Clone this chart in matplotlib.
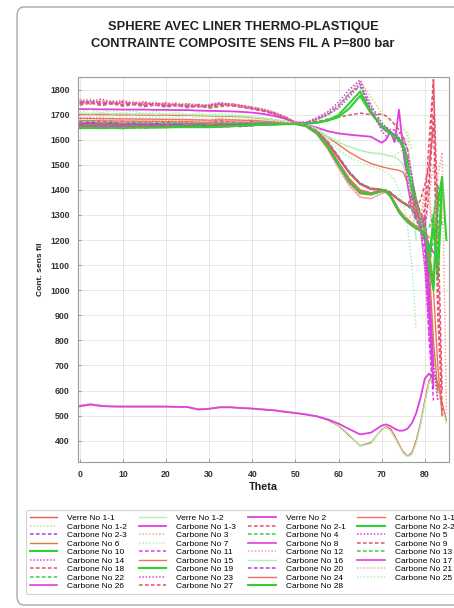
import numpy as np
import matplotlib.pyplot as plt
from matplotlib.patches import FancyBboxPatch

plt.rcParams.update({
    'font.family': 'sans-serif',
    'font.sans-serif': ['Liberation Sans', 'DejaVu Sans'],
})

NA = np.nan

# angle grid (0..67.5 every 2.5, then every degree up to 85)
THETA = [0, 2.5, 5, 7.5, 10, 12.5, 15, 17.5, 20, 22.5, 25, 27.5, 30, 32.5, 35, 37.5, 40, 42.5, 45, 47.5, 50,
         52.5, 55, 57.5, 60, 62.5, 65, 67.5,
         70, 71, 72, 73, 74, 75, 76, 77, 78, 79, 80, 81, 82, 83, 84, 85]

# --- verre ---
verre_1_1 = [540, 546, 540, 537, 536, 536, 536, 536, 536, 535, 534, 526, 528, 534, 533, 530, 528, 525, 522, 516, 511,
             505, 497, 482, 460, 420, 380, 392,
             445, 455, 448, 420, 385, 355, 338, 352, 400, 470, 560, 640, 665, 630, 550, 480]
verre_1_2 = [539, 545, 539, 537, 536, 536, 536, 536, 536, 535, 534, 525, 528, 534, 533, 530, 528, 525, 522, 516, 511,
             505, 498, 484, 462, 424, 378, 388,
             448, 452, 440, 412, 380, 350, 336, 345, 390, 460, 550, 630, 660, 610, 530, 470]
verre_2 = [537, 544, 538, 536, 536, 536, 536, 536, 536, 535, 534, 524, 527, 533, 533, 530, 528, 524, 521, 515, 510,
           504, 497, 485, 468, 446, 425, 432,
           460, 465, 458, 448, 440, 440, 448, 470, 510, 570, 648, 668, 645, NA, NA, NA]

# --- carbone ---
carb_1_1 = [1700, 1700, 1700, 1699, 1699, 1699, 1698, 1698, 1698, 1697, 1697, 1696, 1695, 1694, 1693, 1691, 1688, 1684, 1679, 1672, 1665,
            1655, 1638, 1610, 1580, 1550, 1525, 1505,
            1492, 1488, 1484, 1481, 1478, 1470, 1430, 1370, 1300, NA, NA, NA, NA, NA, NA, NA]
carb_1_2 = [1756, 1762, 1750, 1758, 1746, 1754, 1744, 1750, 1740, 1748, 1736, 1744, 1732, 1740, 1744, 1738, 1732, 1724, 1712, 1694, 1670,
            1668, 1678, 1698, 1728, 1785, 1835, 1770,
            1705, 1690, 1675, 1665, 1655, 1645, 1620, 1560, NA, NA, NA, NA, NA, NA, NA, NA]
carb_1_3 = [1722, 1722, 1721, 1721, 1720, 1720, 1720, 1719, 1719, 1718, 1718, 1716, 1715, 1714, 1713, 1711, 1708, 1703, 1695, 1684, 1668,
            1660, 1648, 1634, 1625, 1620, 1616, 1612,
            1588, 1600, 1632, 1590, 1720, 1560, 1420, 1330, 1290, NA, NA, NA, NA, NA, NA, NA]
carb_2_1 = [1738, 1746, 1736, 1744, 1734, 1740, 1732, 1738, 1730, 1736, 1728, 1734, 1726, 1732, 1736, 1730, 1722, 1714, 1702, 1688, 1668,
            1667, 1672, 1682, 1690, 1698, 1706, 1700,
            1702, 1695, 1680, 1660, 1640, 1610, 1560, 1450, 1330, 1360, 1420, 1500, 1650, NA, NA, NA]
carb_2_2 = [1652, 1650, 1652, 1655, 1652, 1654, 1656, 1653, 1655, 1657, 1655, 1656, 1654, 1656, 1658, 1660, 1660, 1662, 1663, 1664, 1664,
            1664, 1668, 1678, 1698, 1745, 1792, 1712,
            1650, 1635, 1625, 1612, 1600, 1585, 1520, 1440, 1360, 1300, 1250, 1150, 1020, 1350, 1450, 1200]
carb_2_3 = [1672, 1664, 1676, 1666, 1674, 1664, 1672, 1662, 1670, 1664, 1672, 1662, 1668, 1676, 1670, 1666, 1672, 1666, 1670, 1666, 1665,
            1658, 1636, 1592, 1532, 1472, 1426, 1406,
            1402, 1398, 1390, 1376, 1362, 1350, 1340, 1326, 1300, 1270, 1230, 1000, 650, NA, NA, NA]
carb_3 = [1682, 1690, 1678, 1688, 1676, 1686, 1676, 1684, 1674, 1682, 1672, 1680, 1674, 1682, 1678, 1674, 1680, 1674, 1672, 1668, 1665,
          1652, 1620, 1560, 1485, 1415, 1370, 1364,
          1386, 1392, 1378, 1350, 1318, 1296, 1280, 1262, 1300, 1250, 1380, 1400, 1200, NA, NA, NA]
carb_4 = [1742, 1750, 1740, 1748, 1738, 1744, 1736, 1742, 1734, 1740, 1730, 1736, 1728, 1734, 1740, 1732, 1726, 1718, 1706, 1690, 1668,
          1667, 1682, 1700, 1735, 1785, 1812, 1730,
          1660, 1640, 1622, 1610, 1590, 1570, 1520, 1420, 1330, 1270, 1200, 1120, 1280, 1420, 1250, NA]
carb_5 = [1750, 1742, 1756, 1744, 1752, 1740, 1748, 1738, 1744, 1734, 1740, 1730, 1736, 1744, 1738, 1732, 1726, 1716, 1704, 1690, 1668,
          1668, 1684, 1706, 1738, 1780, 1828, 1720,
          1635, 1615, 1628, 1640, 1610, 1590, 1520, 1420, 1310, 1260, 1200, 1000, 720, 560, NA, NA]
carb_6 = [1668, 1668, 1667, 1667, 1666, 1666, 1666, 1665, 1665, 1665, 1664, 1664, 1663, 1663, 1664, 1664, 1665, 1665, 1665, 1665, 1664,
          1654, 1626, 1572, 1500, 1432, 1388, 1382,
          1396, 1394, 1376, 1345, 1312, 1290, 1272, 1258, 1248, 1238, 1228, 1100, 800, 600, NA, NA]
carb_7 = [1712, 1718, 1708, 1716, 1706, 1714, 1704, 1712, 1702, 1710, 1700, 1708, 1698, 1706, 1702, 1698, 1694, 1688, 1682, 1674, 1666,
          1660, 1645, 1615, 1590, 1570, 1555, 1545,
          1540, 1536, 1534, 1538, 1548, 1562, 1630, 1385, NA, NA, NA, NA, NA, NA, NA, NA]
carb_8 = [1658, 1659, 1658, 1658, 1657, 1658, 1657, 1657, 1658, 1658, 1657, 1656, 1655, 1656, 1657, 1658, 1660, 1661, 1662, 1663, 1663,
          1656, 1630, 1578, 1508, 1442, 1398, 1386,
          1398, 1396, 1378, 1350, 1318, 1296, 1280, 1265, 1252, 1240, 1300, 1000, 700, NA, NA, NA]
carb_9 = [1754, 1746, 1752, 1742, 1750, 1740, 1746, 1738, 1744, 1736, 1740, 1732, 1738, 1745, 1738, 1734, 1726, 1718, 1706, 1690, 1668,
          1658, 1634, 1588, 1528, 1468, 1424, 1404,
          1400, 1396, 1388, 1374, 1360, 1348, 1338, 1330, 1360, 1300, 1320, 1450, 1835, 1100, 500, NA]
carb_10 = [1660, 1662, 1658, 1660, 1662, 1660, 1658, 1660, 1662, 1661, 1660, 1658, 1657, 1660, 1662, 1662, 1663, 1664, 1664, 1665, 1665,
           1665, 1668, 1676, 1690, 1725, 1775, 1705,
           1655, 1648, 1630, 1620, 1605, 1570, 1480, 1400, 1330, 1280, 1240, 1080, 1300, 1050, 1400, NA]
carb_11 = [1648, 1656, 1646, 1654, 1644, 1652, 1646, 1654, 1648, 1656, 1650, 1658, 1650, 1656, 1652, 1658, 1656, 1662, 1660, 1664, 1663,
           1657, 1635, 1590, 1530, 1470, 1425, 1405,
           1401, 1397, 1389, 1375, 1361, 1349, 1339, 1324, 1290, 1250, 1150, 800, 560, NA, NA, NA]
carb_12 = [1688, 1680, 1690, 1678, 1686, 1676, 1684, 1676, 1682, 1674, 1680, 1674, 1678, 1686, 1680, 1676, 1678, 1672, 1670, 1668, 1665,
           1652, 1621, 1562, 1487, 1417, 1371, 1365,
           1385, 1391, 1377, 1348, 1316, 1294, 1277, 1300, 1340, 1280, 1230, 1380, 1500, 1250, NA, NA]
carb_13 = [1654, 1646, 1656, 1648, 1654, 1646, 1652, 1648, 1654, 1650, 1656, 1650, 1654, 1660, 1654, 1660, 1658, 1662, 1662, 1664, 1664,
           1658, 1636, 1591, 1531, 1471, 1427, 1407,
           1403, 1399, 1391, 1377, 1363, 1351, 1341, 1322, 1280, 1250, 1220, 1100, 1200, 1350, NA, NA]
carb_14 = [1760, 1752, 1762, 1750, 1756, 1746, 1752, 1742, 1748, 1738, 1744, 1736, 1740, 1748, 1742, 1736, 1728, 1720, 1708, 1692, 1670,
           1670, 1688, 1712, 1750, 1800, 1838, 1740,
           1668, 1650, 1640, 1638, 1628, 1610, 1560, 1460, 1340, 1250, 1080, 820, 600, NA, NA, NA]
carb_15 = [1676, 1676, 1675, 1675, 1674, 1674, 1673, 1673, 1672, 1672, 1671, 1670, 1669, 1670, 1671, 1670, 1669, 1668, 1667, 1666, 1665,
           1653, 1624, 1568, 1496, 1428, 1384, 1380,
           1394, 1392, 1374, 1342, 1310, 1288, 1270, 1256, 1246, 1236, 1200, 1150, 1000, 700, 500, NA]
carb_16 = [1706, 1705, 1705, 1704, 1704, 1703, 1703, 1702, 1702, 1701, 1700, 1699, 1698, 1697, 1696, 1694, 1690, 1686, 1680, 1674, 1666,
           1658, 1640, 1612, 1590, 1572, 1558, 1548,
           1545, 1540, 1535, 1530, 1520, 1500, 1450, 1350, 1200, NA, NA, NA, NA, NA, NA, NA]
carb_17 = [1665, 1665, 1664, 1664, 1664, 1663, 1663, 1663, 1662, 1662, 1662, 1661, 1660, 1661, 1662, 1662, 1663, 1663, 1664, 1664, 1664,
           1655, 1628, 1574, 1504, 1438, 1394, 1384,
           1397, 1395, 1377, 1348, 1316, 1294, 1276, 1262, 1250, 1240, 1230, 1180, 1150, NA, NA, NA]
carb_18 = [1745, 1753, 1741, 1749, 1739, 1747, 1737, 1745, 1735, 1743, 1733, 1739, 1731, 1739, 1743, 1735, 1729, 1719, 1707, 1691, 1667,
           1657, 1633, 1586, 1526, 1466, 1422, 1402,
           1399, 1395, 1387, 1372, 1358, 1346, 1336, 1380, 1320, 1260, 1250, 1400, 1700, 900, 520, NA]
carb_19 = [1650, 1651, 1650, 1652, 1651, 1652, 1653, 1652, 1653, 1654, 1654, 1654, 1653, 1655, 1656, 1657, 1658, 1660, 1661, 1663, 1663,
           1655, 1627, 1572, 1502, 1436, 1392, 1384,
           1396, 1394, 1376, 1346, 1314, 1292, 1274, 1260, 1248, 1238, 1210, 1100, 1000, 1380, NA, NA]
carb_20 = [1662, 1670, 1658, 1668, 1658, 1666, 1656, 1664, 1656, 1664, 1656, 1662, 1654, 1662, 1660, 1664, 1662, 1666, 1664, 1666, 1664,
           1658, 1635, 1589, 1529, 1469, 1424, 1404,
           1400, 1396, 1388, 1373, 1359, 1347, 1337, 1320, 1285, 1250, 1200, 900, 600, NA, NA, NA]
carb_21 = [1758, 1750, 1756, 1748, 1752, 1744, 1750, 1740, 1746, 1738, 1742, 1736, 1740, 1746, 1740, 1734, 1728, 1720, 1708, 1692, 1669,
           1653, 1622, 1563, 1488, 1418, 1372, 1366,
           1386, 1391, 1376, 1347, 1315, 1293, 1278, 1264, 1252, 1300, 1400, 1350, 1200, 1450, 1550, 500]
carb_22 = [1668, 1676, 1664, 1674, 1662, 1672, 1662, 1670, 1662, 1668, 1660, 1666, 1660, 1668, 1664, 1668, 1666, 1668, 1666, 1666, 1665,
           1657, 1634, 1588, 1528, 1468, 1423, 1403,
           1401, 1397, 1389, 1374, 1360, 1348, 1338, 1323, 1290, 1260, 1240, 1250, 1300, 1420, NA, NA]
carb_23 = [1748, 1756, 1744, 1752, 1742, 1748, 1738, 1746, 1736, 1742, 1732, 1738, 1734, 1742, 1736, 1730, 1724, 1716, 1704, 1688, 1667,
           1667, 1680, 1700, 1725, 1770, 1820, 1710,
           1650, 1640, 1630, 1620, 1600, 1550, 1450, 1350, 1280, 1240, 1100, 900, 700, 560, NA, NA]
carb_24 = [1685, 1685, 1684, 1684, 1683, 1683, 1682, 1682, 1681, 1681, 1680, 1679, 1678, 1679, 1679, 1678, 1676, 1674, 1671, 1668, 1665,
           1657, 1632, 1580, 1510, 1445, 1400, 1388,
           1400, 1397, 1380, 1352, 1322, 1300, 1284, 1268, 1255, 1245, 1230, 1210, NA, NA, NA, NA]
carb_25 = [1694, 1700, 1690, 1698, 1688, 1696, 1686, 1694, 1686, 1692, 1684, 1690, 1682, 1690, 1686, 1688, 1684, 1680, 1676, 1670, 1665,
           1660, 1640, 1600, 1560, 1530, 1510, 1495,
           1480, 1470, 1460, 1440, 1400, 1350, 1250, 1100, 840, NA, NA, NA, NA, NA, NA, NA]
carb_26 = [1655, 1655, 1654, 1654, 1654, 1653, 1653, 1653, 1652, 1652, 1652, 1651, 1650, 1651, 1653, 1655, 1657, 1659, 1661, 1662, 1663,
           1654, 1625, 1570, 1498, 1430, 1390, 1383,
           1395, 1393, 1375, 1344, 1312, 1290, 1272, 1258, 1246, 1238, 1226, 900, 620, NA, NA, NA]
carb_27 = [1660, 1652, 1664, 1654, 1662, 1652, 1660, 1652, 1658, 1650, 1656, 1650, 1654, 1662, 1656, 1652, 1658, 1660, 1662, 1664, 1664,
           1658, 1633, 1587, 1527, 1467, 1423, 1403,
           1400, 1396, 1388, 1373, 1359, 1347, 1337, 1340, 1300, 1280, 1320, 1600, 1840, 1300, 600, NA]
carb_28 = [1646, 1647, 1646, 1647, 1646, 1648, 1648, 1648, 1649, 1650, 1650, 1650, 1650, 1652, 1654, 1656, 1658, 1660, 1661, 1662, 1663,
           1654, 1626, 1571, 1500, 1434, 1390, 1382,
           1395, 1393, 1375, 1345, 1313, 1291, 1273, 1259, 1247, 1237, 1225, 1150, 1250, 1100, 1450, NA]

LABELS = ['Verre No 1-1', 'Verre No 1-2', 'Verre No 2',
          'Carbone No 1-1', 'Carbone No 1-2', 'Carbone No 1-3',
          'Carbone No 2-1', 'Carbone No 2-2', 'Carbone No 2-3'] + \
         ['Carbone No %d' % k for k in range(3, 29)]
SERIES = [verre_1_1, verre_1_2, verre_2,
          carb_1_1, carb_1_2, carb_1_3, carb_2_1, carb_2_2, carb_2_3,
          carb_3, carb_4, carb_5, carb_6, carb_7, carb_8, carb_9, carb_10,
          carb_11, carb_12, carb_13, carb_14, carb_15, carb_16, carb_17, carb_18,
          carb_19, carb_20, carb_21, carb_22, carb_23, carb_24, carb_25, carb_26,
          carb_27, carb_28]

SOLID = '-'
DASH = (0, (2.4, 1.5))
DOT = (0, (1.0, 1.2))
SALMON = '#f07062'
YGREEN = '#c4e27a'
MAGENTA = '#e040e0'
RED = '#e8506a'
GREEN = '#2fd02f'
PURPLE = '#a040e6'
PSALMON = '#f4aa9a'
DGREEN = '#3ccc4c'
PGREEN = '#b4f0b4'

STYLES = [('#ee5a55', SOLID, 1.0), (PGREEN, SOLID, 1.0), (MAGENTA, SOLID, 1.3),
          # cycle of 9 for carbone
          (SALMON, SOLID, 1.0), (YGREEN, DOT, 1.1), (MAGENTA, SOLID, 1.3),
          (RED, DASH, 1.1), (GREEN, SOLID, 1.5), (PURPLE, DASH, 1.1),
          (PSALMON, DOT, 1.1), (DGREEN, DASH, 1.1), (MAGENTA, DOT, 1.1),
          ('#d0803a', SOLID, 1.0), (PGREEN, DOT, 1.1), (MAGENTA, SOLID, 1.2),
          (RED, DASH, 1.1), (GREEN, SOLID, 1.5), (MAGENTA, DASH, 1.1),
          ('#f4a0b8', DOT, 1.1), (DGREEN, DASH, 1.1), (MAGENTA, DOT, 1.1),
          (SALMON, SOLID, 1.0), (PGREEN, SOLID, 1.0), (MAGENTA, SOLID, 1.2),
          (RED, DASH, 1.1), (GREEN, SOLID, 1.5), (PURPLE, DASH, 1.1),
          (PSALMON, DOT, 1.1), (DGREEN, DASH, 1.1), (MAGENTA, DOT, 1.1),
          (SALMON, SOLID, 1.0), (PGREEN, DOT, 1.1), (MAGENTA, SOLID, 1.2),
          (RED, DASH, 1.1), (GREEN, SOLID, 1.5)]

fig = plt.figure(figsize=(4.54, 6.08), dpi=100)

# outer rounded frame (right side runs off the picture)
frame = FancyBboxPatch((17 / 454, 3 / 608), 1.2, 598 / 608, transform=fig.transFigure,
                       boxstyle='round,pad=0,rounding_size=0.015', fc='white', ec='#a8a8a8',
                       lw=1.0, zorder=-10)
fig.patches.append(frame)

fig.text(243 / 454, 1 - 27 / 608, 'SPHERE AVEC LINER THERMO-PLASTIQUE',
         ha='center', va='center', fontsize=9.3, fontweight='bold', color='#222222')
fig.text(243 / 454, 1 - 44 / 608, 'CONTRAINTE COMPOSITE SENS FIL A P=800 bar',
         ha='center', va='center', fontsize=9.3, fontweight='bold', color='#222222')

ax = fig.add_axes([78 / 454, 1 - 462 / 608, 371 / 454, 385 / 608])
ax.set_facecolor('white')
handles = []
for y, lab, (c, ls, lw) in zip(SERIES, LABELS, STYLES):
    h, = ax.plot(THETA, y, color=c, ls=ls, lw=lw, label=lab)
    handles.append(h)

ax.set_xlim(-0.4, 85.6)
ax.set_ylim(315, 1850)
ax.set_xticks(np.arange(0, 81, 10))
ax.set_yticks(np.arange(400, 1801, 100))
ax.grid(True, color='#dcdcdc', lw=0.5)
ax.set_axisbelow(True)
for sp in ax.spines.values():
    sp.set_color('#9a9a9a')
    sp.set_linewidth(0.8)
ax.tick_params(direction='in', length=2.5, width=0.6, color='#888888',
               labelsize=6.3, labelcolor='#333333', pad=6)
ax.tick_params(axis='y', pad=6)
for t in ax.get_xticklabels() + ax.get_yticklabels():
    t.set_fontweight('semibold')
ax.set_xlabel('Theta', fontsize=7.8, fontweight='bold', color='#222222', labelpad=2)
ax.set_ylabel('Cont. sens fil', fontsize=6.0, fontweight='bold', color='#222222', labelpad=4)

# legend filled row by row, as in the original (runs off the right edge like the source)
order = [i for col in range(4) for i in range(col, len(handles), 4)]
leg = fig.legend([handles[i] for i in order], [LABELS[i] for i in order],
                 ncol=4, loc='upper left', bbox_to_anchor=(22 / 454, 1 - 506 / 608),
                 fontsize=6.0, handlelength=3.25, handletextpad=1.2, columnspacing=1.45,
                 labelspacing=0.08, borderpad=0.5, frameon=True, fancybox=True)
leg.get_frame().set_edgecolor('#c8c8c8')
leg.get_frame().set_linewidth(0.8)

fig.savefig('out.png', dpi=100)
